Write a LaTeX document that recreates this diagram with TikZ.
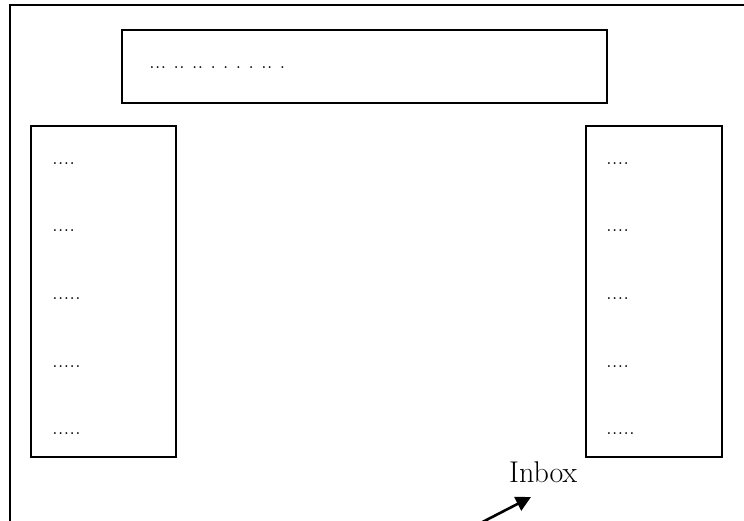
\documentclass[tikz,border=0pt]{standalone}
\usetikzlibrary{arrows.meta}
\begin{document}
\frenchspacing
\begin{tikzpicture}[x=1pt,y=-1pt,
  line/.style={draw=black, line width=2.2pt},
  panel/.style={line, inner sep=0pt, anchor=north west, minimum width=#1},
  dots/.style={anchor=base west, inner sep=0pt, font=\fontsize{23}{28}\selectfont\frenchspacing},
  label/.style={anchor=base west, inner sep=0pt, font=\fontsize{30}{34}\selectfont},
  pointer/.style={line width=2.6pt, -{Triangle[length=15pt,width=15pt]}}]
\useasboundingbox (0,0) rectangle (744,521);
\clip (0,0) rectangle (744,521);
% outer frame (open at right and bottom)
\coordinate (fb) at (10,530);
\coordinate (fc) at (10,5);
\coordinate (fr) at (750,5);
\draw[line] (fb) -- (fc) -- (fr);
% boxes
\node[panel=485pt, minimum height=73pt] (top) at (121,29) {};
\node[panel=145pt, minimum height=331pt] (left) at (30,125) {};
\node[panel=136pt, minimum height=331pt] (right) at (585,125) {};
% texts
\node[dots] (t0) at (149,68.5) {... .. .. . . . . .. .};
\node[dots] (l1) at (52,164.5) {....};
\node[dots] (l2) at (52,232) {....};
\node[dots] (l3) at (52,299.5) {.....};
\node[dots] (l4) at (52,367) {.....};
\node[dots] (l5) at (52,434.5) {.....};
\node[dots] (r1) at (606,164.5) {....};
\node[dots] (r2) at (606,232) {....};
\node[dots] (r3) at (606,299.5) {....};
\node[dots] (r4) at (606,367) {....};
\node[dots] (r5) at (606,434.5) {.....};
\node[label] (inbox) at (509,482) {Inbox};
% arrow
\coordinate (tail) at (467,530);
\coordinate (tip) at (531,497);
\draw[pointer] (tail) -- (tip);
\end{tikzpicture}
\end{document}
